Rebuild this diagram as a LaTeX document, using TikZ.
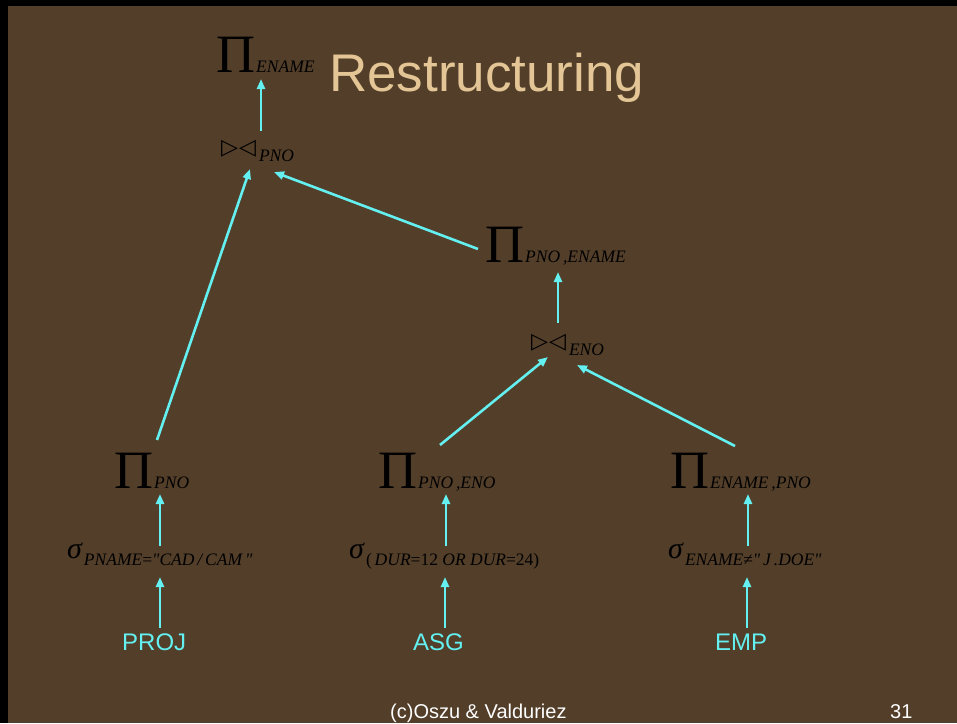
\documentclass[tikz,border=0pt]{standalone}
\usepackage{fontspec}
\setmainfont{Liberation Sans}
\newfontfamily\opfont{Liberation Serif}
\newfontfamily\symfont{DejaVu Sans}
\usetikzlibrary{arrows.meta}
\definecolor{slidebrown}{RGB}{82,62,41}
\definecolor{titletan}{RGB}{228,198,150}
\definecolor{treecyan}{RGB}{100,240,240}
\tikzset{
op/.style = {inner sep=0pt, anchor=base west, text=black},
rel/.style = {inner sep=0pt, anchor=base west, text=treecyan, font=\fontsize{24}{24}\selectfont},
flow/.style = {line width=2.6pt, color=treecyan, -{Triangle[length=10pt,width=8pt]}}
}
% operator labels: symbol plus italic subscript
\newcommand{\subf}{\opfont\itshape\fontsize{17.5}{18}\selectfont}
\newcommand{\projop}[1]{{\opfont\fontsize{54}{54}\selectfont Π}\kern1pt{\subf #1}}
\newcommand{\selop}[1]{{\opfont\itshape\fontsize{30}{30}\selectfont σ}\kern2pt\raisebox{-7pt}{\subf #1}}
\newcommand{\joinop}[1]{{\symfont\fontsize{22}{22}\selectfont ▷\kern1pt◁}\kern3pt\raisebox{-7pt}{\subf #1}}

\begin{document}
\begin{tikzpicture}[x=1pt,y=-1pt]
%
\useasboundingbox (0,0) rectangle (957,723);
\fill[black] (0,0) rectangle (957,723);
\fill[slidebrown] (8,6) rectangle (957,723);
%
\node[inner sep=0pt, anchor=base west, text=titletan, font=\fontsize{53}{53}\selectfont] (title) at (329,91) {Restructuring};
%
% upper part of the tree
\node[op] (ptop) at (216,72) {\projop{ENAME}};
\node[op] (jtop) at (221,154) {\joinop{PNO}};
\node[op] (pmid) at (485,262) {\projop{PNO\,,ENAME}};
\node[op] (jmid) at (531,348) {\joinop{ENO}};
%
% three branches
\node[op] (p1) at (114,488) {\projop{PNO}};
\node[op] (p2) at (378,488) {\projop{PNO\,,ENO}};
\node[op] (p3) at (670,488) {\projop{ENAME\,,PNO}};
%
\node[op] (s1) at (67,558) {\selop{PNAME{\upshape =}"CAD\,/\,CAM\,"}};
\node[op] (s2) at (349,558) {\selop{{\upshape (}\,DUR{\upshape =12} OR DUR{\upshape =24)}}};
\node[op] (s3) at (668,558) {\selop{ENAME{\upshape ≠}"\,J\,.DOE"}};
%
\node[rel] (proj) at (122,650) {PROJ};
\node[rel] (asg) at (413,650) {ASG};
\node[rel] (emp) at (715,650) {EMP};
%
% edges: from/shift/to/shift, shifts taken from each node's base west
\foreach \a/\ax/\ay/\b/\bx/\by in {
jtop/40/-23/ptop/45/7,
p1/43/-48/jtop/29/15,
pmid/-7/-13/jtop/53/18,
jmid/27/-25/pmid/73/10,
p2/62/-43/jmid/17/9,
p3/65/-42/jmid/46/17,
s1/93/-12/p1/46/6,
s2/97/-12/p2/68/6,
s3/80/-12/p3/78/6,
proj/38/-22/s1/93/19,
asg/32/-22/s2/96/19,
emp/32/-22/s3/79/19}
{\draw[flow] ([shift={(\ax,\ay)}]\a.base west) -- ([shift={(\bx,\by)}]\b.base west);}
%
\node[inner sep=0pt, anchor=base west, text=white, font=\fontsize{20}{20}\selectfont] (credit) at (390,718) {(c)Oszu \& Valduriez};
\node[inner sep=0pt, anchor=base west, text=white, font=\fontsize{20}{20}\selectfont] (page) at (890,718) {31};
%
\end{tikzpicture}
\end{document}
